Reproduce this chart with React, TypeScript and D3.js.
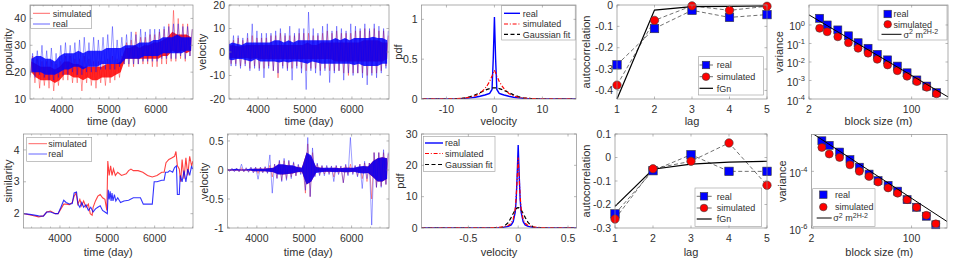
import React from "react";
import * as d3 from "d3";

// ---------- data ----------
// time series are summarised in 100-day bins: dense core and extreme values
const binDays = [3350, 3450, 3550, 3650, 3750, 3850, 3950, 4050, 4150, 4250, 4350, 4450, 4550, 4650, 4750, 4850, 4950, 5050, 5150, 5250, 5350, 5450, 5550, 5650, 5750, 5850, 5950, 6050, 6150, 6250, 6350, 6450, 6550, 6650, 6750];

const popRealCoreLo = [20, 20, 20, 19, 19, 19, 20, 21, 21, 22, 22, 21, 22, 22, 22, 23, 23, 23, 23, 23, 25, 25, 25, 25, 26, 26, 26, 26, 27, 27, 27, 27, 27, 28, 28];
const popRealCoreHi = [25, 26, 26, 25, 25, 24, 26, 27, 27, 27, 28, 27, 28, 28, 28, 28, 29, 29, 29, 29, 30, 30, 30, 31, 31, 31, 32, 32, 33, 33, 33, 34, 33, 33, 33];
const popRealExtLo = [19, 18, 19, 18, 17, 17, 18, 19, 19, 20, 19, 19, 20, 20, 20, 21, 21, 21, 21, 22, 23, 23, 23, 23, 24, 24, 24, 24, 25, 25, 25, 25, 26, 25, 26];
const popRealExtHi = [27, 28, 30, 28, 29, 27, 30, 31, 30, 31, 32, 33, 31, 33, 32, 33, 34, 37, 32, 33, 34, 35, 34, 36, 35, 36, 36, 36, 37, 37, 38, 38, 37, 37, 36];
const popSimCoreLo = [20, 18, 17, 17, 17, 16, 17, 19, 19, 18, 18, 17, 18, 17, 17, 18, 18, 18, 19, 20, 25, 25, 25, 25, 25, 25, 25, 25, 26, 26, 28, 27, 28, 27, 28];
const popSimCoreHi = [24, 23, 22, 22, 22, 21, 22, 24, 24, 23, 23, 22, 22, 22, 22, 22, 23, 23, 23, 24, 29, 29, 30, 29, 30, 30, 31, 31, 32, 33, 35, 34, 34, 34, 33];
const popSimExtLo = [18, 16, 14, 15, 14, 13, 15, 17, 17, 16, 16, 13, 16, 15, 14, 16, 15, 16, 17, 18, 23, 22, 22, 23, 23, 23, 22, 22, 23, 23, 24, 24, 25, 24, 26];
const popSimExtHi = [26, 25, 24, 24, 24, 23, 24, 26, 26, 25, 25, 26, 25, 24, 24, 24, 25, 26, 25, 26, 31, 32, 35, 33, 33, 34, 34, 35, 36, 38, 43, 40, 38, 38, 36];

const velRealCoreLo = [-3, -3.5, -3, -3, -3.5, -4, -3, -4, -4, -4, -4, -4.5, -4, -4.5, -4, -4, -4.5, -5, -4, -4.5, -5, -5, -5, -5, -5, -5, -5, -5.5, -5, -6, -6, -6, -6, -5, -5];
const velRealCoreHi = [3, 4, 3.5, 3, 4, 4, 4, 4, 4, 4, 5, 5, 4, 5, 4, 5, 5, 5, 5, 5, 5, 5, 5, 6, 5, 6, 5, 6, 6, 6, 6, 6.5, 6, 6, 5];
const velRealExtLo = [-5, -6, -6, -7, -6, -8, -7, -8, -11, -7, -8, -9, -7, -8, -12, -7, -9, -16, -8, -9, -10, -8, -13, -9, -8, -12, -9, -10, -9, -11, -14, -10, -11, -9, -7];
const velRealExtHi = [5, 7, 7, 6, 8, 12, 9, 8, 8, 8, 9, 10, 8, 11, 8, 10, 10, 17, 10, 8, 11, 12, 9, 11, 10, 9, 12, 11, 10, 12, 10, 12, 11, 10, 9];
const velSimCoreLo = [-2.5, -2.5, -2.5, -2.5, -2.5, -3, -2.5, -3, -3, -3, -3, -3, -3, -3, -3, -3, -3, -3, -3, -3, -3, -3, -3, -4, -4, -4, -4, -4, -4, -4, -4, -4, -4, -4, -3];
const velSimCoreHi = [2.5, 3, 2.5, 2.5, 3, 3, 3, 3, 3, 3, 3, 3, 3, 3, 3, 3, 3, 4, 3, 3, 4, 4, 4, 4, 4, 4, 4, 4, 4, 5, 5, 5, 5, 4, 4];
const velSimExtLo = [-4, -5, -5, -6, -5, -7, -6, -7, -7, -6, -8, -11, -6, -7, -7, -6, -7, -8, -7, -7, -8, -7, -8, -8, -8, -9, -10, -9, -9, -9, -10, -9, -9, -8, -6];
const velSimExtHi = [4, 5, 6, 5, 6, 7, 6, 6, 6, 7, 7, 8, 7, 7, 7, 8, 8, 8, 7, 7, 8, 9, 8, 9, 8, 8, 8, 9, 9, 10, 9, 10, 9, 9, 7];

const vel2RealCoreLo = [-0.01, -0.01, -0.01, -0.01, -0.01, -0.01, -0.02, -0.02, -0.02, -0.03, -0.04, -0.08, -0.08, -0.07, -0.06, -0.04, -0.03, -0.25, -0.2, -0.05, -0.04, -0.03, -0.03, -0.04, -0.03, -0.04, -0.04, -0.03, -0.05, -0.06, -0.05, -0.12, -0.2, -0.2, -0.15];
const vel2RealCoreHi = [0.01, 0.01, 0.02, 0.01, 0.01, 0.02, 0.02, 0.02, 0.02, 0.03, 0.04, 0.1, 0.1, 0.08, 0.08, 0.05, 0.04, 0.3, 0.25, 0.05, 0.04, 0.04, 0.04, 0.04, 0.03, 0.04, 0.04, 0.04, 0.06, 0.07, 0.06, 0.15, 0.2, 0.22, 0.2];
const vel2RealExtLo = [-0.02, -0.02, -0.03, -0.03, -0.03, -0.04, -0.05, -0.16, -0.05, -0.06, -0.4, -0.15, -0.2, -0.18, -0.15, -0.1, -0.08, -0.35, -0.46, -0.12, -0.1, -0.1, -0.08, -0.2, -0.08, -0.22, -0.1, -0.08, -0.12, -0.32, -0.15, -0.95, -0.3, -0.3, -0.25];
const vel2RealExtHi = [0.02, 0.03, 0.03, 0.1, 0.04, 0.05, 0.05, 0.05, 0.06, 0.26, 0.1, 0.17, 0.2, 0.17, 0.14, 0.1, 0.07, 0.56, 0.38, 0.12, 0.08, 0.08, 0.07, 0.08, 0.07, 0.1, 0.56, 0.08, 0.1, 0.15, 0.12, 0.3, 0.3, 0.35, 0.3];
const vel2SimCoreLo = [-0.01, -0.01, -0.01, -0.01, -0.01, -0.01, -0.02, -0.02, -0.02, -0.02, -0.04, -0.07, -0.08, -0.07, -0.06, -0.04, -0.03, -0.25, -0.2, -0.04, -0.03, -0.03, -0.03, -0.03, -0.03, -0.04, -0.03, -0.03, -0.04, -0.05, -0.05, -0.12, -0.2, -0.2, -0.15];
const vel2SimCoreHi = [0.01, 0.01, 0.01, 0.01, 0.01, 0.01, 0.02, 0.02, 0.02, 0.03, 0.04, 0.09, 0.09, 0.08, 0.07, 0.05, 0.04, 0.3, 0.22, 0.05, 0.04, 0.03, 0.03, 0.04, 0.03, 0.04, 0.04, 0.03, 0.05, 0.06, 0.06, 0.15, 0.2, 0.22, 0.2];
const vel2SimExtLo = [-0.02, -0.02, -0.02, -0.03, -0.03, -0.03, -0.04, -0.06, -0.04, -0.05, -0.12, -0.14, -0.18, -0.15, -0.12, -0.1, -0.06, -0.4, -0.46, -0.1, -0.08, -0.07, -0.06, -0.12, -0.06, -0.22, -0.08, -0.06, -0.1, -0.15, -0.2, -0.5, -0.3, -0.28, -0.25];
const vel2SimExtHi = [0.02, 0.02, 0.03, 0.04, 0.03, 0.04, 0.04, 0.04, 0.05, 0.08, 0.1, 0.15, 0.16, 0.15, 0.12, 0.08, 0.06, 0.45, 0.3, 0.1, 0.07, 0.06, 0.06, 0.07, 0.06, 0.08, 0.1, 0.07, 0.1, 0.12, 0.12, 0.3, 0.3, 0.3, 0.28];

const simRealDays = [3240, 3400, 3550, 3650, 3720, 3800, 3900, 3960, 4020, 4080, 4130, 4200, 4260, 4300, 4350, 4380, 4420, 4460, 4500, 4550, 4600, 4650, 4700, 4750, 4800, 4850, 4900, 4950, 5000, 5020, 5040, 5060, 5080, 5100, 5120, 5150, 5180, 5220, 5280, 5350, 5450, 5550, 5650, 5700, 5760, 5850, 5950, 5990, 6050, 6150, 6200, 6230, 6280, 6320, 6380, 6420, 6460, 6480, 6520, 6540, 6580, 6620, 6660, 6700, 6740, 6780, 6800];
const simRealVals = [2.0, 1.97, 1.93, 1.92, 2.05, 2.05, 2.0, 2.0, 2.2, 2.42, 2.35, 2.3, 2.32, 2.65, 2.68, 2.3, 2.2, 2.35, 2.2, 2.28, 2.1, 2.2, 2.05, 2.15, 2.2, 2.25, 2.1, 2.05, 2.0, 2.75, 2.45, 2.7, 2.4, 2.65, 2.4, 2.6, 2.4, 2.5, 2.35, 2.4, 2.42, 2.5, 2.5, 2.5, 2.3, 2.3, 2.3, 3.0, 3.0, 3.05, 3.05, 3.3, 3.3, 3.35, 3.3, 3.45, 3.5, 2.6, 2.6, 3.2, 3.0, 3.35, 3.0, 3.4, 3.2, 3.5, 3.4];
const simSimDays = [3240, 3400, 3550, 3650, 3720, 3800, 3900, 3960, 4020, 4080, 4130, 4200, 4260, 4300, 4340, 4380, 4420, 4460, 4500, 4550, 4600, 4640, 4680, 4700, 4750, 4800, 4850, 4900, 4950, 4990, 5010, 5040, 5070, 5100, 5130, 5170, 5220, 5300, 5400, 5450, 5500, 5550, 5650, 5750, 5850, 5950, 6050, 6150, 6200, 6240, 6300, 6360, 6420, 6450, 6480, 6520, 6550, 6580, 6620, 6660, 6700, 6740, 6780, 6810];
const simSimVals = [2.0, 1.95, 1.9, 1.93, 2.05, 2.08, 2.0, 2.0, 2.15, 2.3, 2.3, 2.28, 2.35, 2.55, 2.65, 2.3, 2.45, 2.25, 2.4, 2.2, 2.3, 2.0, 1.95, 2.2, 2.4, 2.55, 2.6, 2.5, 2.45, 2.1, 3.65, 3.2, 3.5, 3.2, 3.4, 3.2, 3.3, 3.2, 3.25, 3.35, 3.4, 3.35, 3.35, 3.3, 3.2, 3.15, 3.2, 3.3, 3.3, 3.6, 3.7, 3.75, 3.8, 3.95, 3.5, 3.4, 3.0, 3.7, 3.1, 3.75, 3.2, 3.8, 3.5, 3.65];

const pdfVelTop = [-15, -10, -8, -6, -5, -4, -3, -2, -1.5, -1, -0.5, -0.25, 0, 0.25, 0.5, 1, 1.5, 2, 3, 4, 5, 6, 8, 10, 17];
const pdfRealTop = [0, 0.001, 0.003, 0.008, 0.014, 0.022, 0.035, 0.05, 0.06, 0.07, 0.12, 0.5, 1.03, 0.5, 0.12, 0.07, 0.06, 0.05, 0.035, 0.022, 0.014, 0.008, 0.003, 0.001, 0];
const pdfSimTop = [0, 0.002, 0.005, 0.013, 0.022, 0.04, 0.07, 0.13, 0.17, 0.22, 0.29, 0.33, 0.36, 0.33, 0.29, 0.22, 0.17, 0.13, 0.07, 0.04, 0.022, 0.013, 0.005, 0.002, 0];
const pdfGaussTop = [0, 0.0003, 0.003, 0.015, 0.03, 0.052, 0.08, 0.109, 0.121, 0.131, 0.138, 0.139, 0.14, 0.139, 0.138, 0.131, 0.121, 0.109, 0.08, 0.052, 0.03, 0.015, 0.003, 0.0003, 0];

const pdfVelBot = [-0.97, -0.5, -0.3, -0.2, -0.15, -0.1, -0.07, -0.05, -0.03, -0.02, -0.01, 0, 0.01, 0.02, 0.03, 0.05, 0.07, 0.1, 0.15, 0.2, 0.3, 0.585];
const pdfRealBot = [0, 0.01, 0.05, 0.1, 0.2, 0.5, 1.0, 2.0, 5, 9, 17, 26.5, 17, 9, 5, 2.0, 1.0, 0.5, 0.2, 0.1, 0.05, 0];
const pdfSimBot = [0, 0.02, 0.08, 0.2, 0.35, 0.8, 1.5, 2.8, 6, 10, 16, 22.5, 16, 10, 6, 2.8, 1.5, 0.8, 0.35, 0.2, 0.08, 0];
const pdfGaussBot = [0, 0, 0, 0.02, 0.3, 1.7, 3.4, 4.65, 5.76, 6.16, 6.41, 6.5, 6.41, 6.16, 5.76, 4.65, 3.4, 1.7, 0.3, 0.02, 0, 0];

const lags = [1, 2, 3, 4, 5];
const acfRealTop = [-0.28, -0.11, -0.025, -0.058, -0.045];
const acfSimTop = [-0.375, -0.072, -0.004, -0.025, -0.006];
const acfFgnTop = [-0.44, -0.024, -0.008, -0.006, -0.004];
const acfRealBot = [-0.24, -0.056, 0.012, -0.059, -0.059];
const acfSimBot = [-0.262, -0.048, -0.016, 0.062, -0.118];
const acfFgnBot = [-0.208, -0.05, -0.028, -0.02, -0.016];

const blockSize = [3, 4, 6, 9, 13, 19, 27, 40, 58, 84, 122, 178, 258];
const varRealTop = [2.3, 1.0, 0.54, 0.26, 0.11, 0.055, 0.026, 0.013, 0.006, 0.0026, 0.00107, 0.0005, 0.00022];
const varSimTop = [0.66, 0.43, 0.23, 0.11, 0.055, 0.03, 0.014, 0.0069, 0.0034, 0.0017, 0.00087, 0.00043, 0.00019];
const varRealBot = [1.2e-3, 8.3e-4, 4.8e-4, 2.6e-4, 1.4e-4, 8e-5, 4.7e-5, 3.2e-5, 2e-5, 1e-5, 5.4e-6, 2.6e-6, 1.3e-6];
const varSimBot = [7e-4, 4.1e-4, 3.1e-4, 1.7e-4, 1e-4, 6.6e-5, 4.2e-5, 2.6e-5, 1.7e-5, 1e-5, 5.4e-6, 2.8e-6, 1.4e-6];
const fitM = [2, 400];
const fitTop = [3.5, 1.3e-4];
const fitBot = [2.3e-3, 1.7e-6];

// ---------- drawing ----------
const FONT = "Liberation Sans, Arial, Helvetica, sans-serif";
const INK = "#303030";
const EDGE = "#8a8a8a";
const RED = "#ff0000";
const BLUE = "#0000ff";
const TICK_Y = [112.5, 241.5];
const LABEL_Y = [125, 256];
const FS_TICK = 10.5;
const FS_LABEL = 11;

type Box = { l: number; r: number; t: number; b: number };
type Sc = any;

const pts = (xs: number[], ys: number[]) => xs.map((v, i) => [v, ys[i]] as [number, number]);

function pathOf(x: Sc, y: Sc, data: [number, number][]) {
  return d3.line<[number, number]>().x(p => x(p[0])).y(p => y(p[1]))(data) || "";
}

function logLabel(v: number) {
  const e = Math.round(Math.log10(v));
  return (
    <>
      <tspan>10</tspan>
      <tspan dy={-4.5} fontSize={7.5}>{e}</tspan>
    </>
  );
}

function Frame(props: {
  id: string; box: Box; x: Sc; y: Sc; row: number;
  xTicks: number[]; yTicks: number[]; yLog?: boolean;
  xLabel: string; yLabel: string; yLabelX: number; minorX?: number[];
  children?: React.ReactNode;
}) {
  const { id, box, x, y, row, xTicks, yTicks, yLog, xLabel, yLabel, yLabelX, minorX } = props;
  const tl = 2.5;
  return (
    <g>
      <defs>
        <clipPath id={id}>
          <rect x={box.l} y={box.t} width={box.r - box.l} height={box.b - box.t} />
        </clipPath>
      </defs>
      <rect x={box.l} y={box.t} width={box.r - box.l} height={box.b - box.t} fill="#fff" />
      {props.children}
      <rect x={box.l} y={box.t} width={box.r - box.l} height={box.b - box.t} fill="none" stroke={EDGE} strokeWidth={0.7} />
      {(minorX || []).map(v => (
        <g key={"m" + v} stroke={EDGE} strokeWidth={0.5}>
          <line x1={x(v)} x2={x(v)} y1={box.b} y2={box.b - 1.5} />
          <line x1={x(v)} x2={x(v)} y1={box.t} y2={box.t + 1.5} />
        </g>
      ))}
      {xTicks.map(v => (
        <g key={"x" + v}>
          <line x1={x(v)} x2={x(v)} y1={box.b} y2={box.b - tl} stroke={EDGE} strokeWidth={0.6} />
          <line x1={x(v)} x2={x(v)} y1={box.t} y2={box.t + tl} stroke={EDGE} strokeWidth={0.6} />
          <text x={x(v)} y={TICK_Y[row]} textAnchor="middle" fontSize={FS_TICK} fill={INK}>{String(v)}</text>
        </g>
      ))}
      {yTicks.map(v => (
        <g key={"y" + v}>
          <line x1={box.l} x2={box.l + tl} y1={y(v)} y2={y(v)} stroke={EDGE} strokeWidth={0.6} />
          <line x1={box.r} x2={box.r - tl} y1={y(v)} y2={y(v)} stroke={EDGE} strokeWidth={0.6} />
          <text x={box.l - 4} y={y(v) + (yLog ? 5.5 : 3.7)} textAnchor="end" fontSize={FS_TICK} fill={INK}>
            {yLog ? logLabel(v) : String(v)}
          </text>
        </g>
      ))}
      <text x={(box.l + box.r) / 2} y={LABEL_Y[row]} textAnchor="middle" fontSize={FS_LABEL} fill={INK}>{xLabel}</text>
      <text transform={`translate(${yLabelX},${(box.t + box.b) / 2}) rotate(-90)`} dy="0.35em"
        textAnchor="middle" fontSize={FS_LABEL} fill={INK}>{yLabel}</text>
    </g>
  );
}

function NoisyTrace(p: { x: Sc; y: Sc; color: string; coreLo: number[]; coreHi: number[]; extLo: number[]; extHi: number[] }) {
  const { x, y, color } = p;
  const area = d3.area<number>()
    .x(d => x(d))
    .y0((_, i) => y(p.coreLo[i]))
    .y1((_, i) => y(p.coreHi[i]));
  const ext: [number, number][] = [];
  binDays.forEach((d, i) => {
    ext.push([d - 25, p.extLo[i]], [d + 25, p.extHi[i]]);
  });
  return (
    <g>
      <path d={pathOf(x, y, ext)} fill="none" stroke={color} strokeOpacity={0.55} strokeWidth={0.7} />
      <path d={area(binDays) || ""} fill={color} fillOpacity={0.85} />
    </g>
  );
}

function LegendBox({ x, y, w, h, children }: { x: number; y: number; w: number; h: number; children?: React.ReactNode }) {
  return (
    <g>
      <rect x={x} y={y} width={w} height={h} fill="#fff" stroke="#9a9a9a" strokeWidth={0.6} />
      {children}
    </g>
  );
}

const LText = ({ x, y, children }: { x: number; y: number; children: React.ReactNode }) => (
  <text x={x} y={y + 3.2} fontSize={9} fill={INK}>{children}</text>
);

const Sq = ({ cx, cy, s = 8.5 }: { cx: number; cy: number; s?: number }) => (
  <rect x={cx - s / 2} y={cy - s / 2} width={s} height={s} fill={BLUE} stroke="#3a3a3a" strokeWidth={0.6} />
);
const Dot = ({ cx, cy, r = 4.2 }: { cx: number; cy: number; r?: number }) => (
  <circle cx={cx} cy={cy} r={r} fill={RED} stroke="#3a3a3a" strokeWidth={0.6} />
);

const sigmaLabel = (
  <>
    <tspan>σ</tspan>
    <tspan dy={-3.5} fontSize={7}>2</tspan>
    <tspan dy={3.5}> m</tspan>
    <tspan dy={-3.5} fontSize={7}>2H-2</tspan>
  </>
);

const DASH = "4,2.5";
const DASHDOT = "4,1.8,1,1.8";

export default function App() {
  // ---- panel boxes ----
  const b1 = { l: 30, r: 193, t: 5, b: 99 };
  const b2 = { l: 229, r: 389, t: 5, b: 99 };
  const b3 = { l: 421.5, r: 576, t: 5, b: 99 };
  const b4 = { l: 617, r: 767, t: 5, b: 99 };
  const b5 = { l: 809, r: 948, t: 5, b: 99 };
  const b6 = { l: 23.5, r: 193, t: 134, b: 228 };
  const b7 = { l: 227.5, r: 389, t: 134, b: 228 };
  const b8 = { l: 421.5, r: 576.5, t: 134, b: 228 };
  const b9 = { l: 615, r: 767, t: 134, b: 228 };
  const b10 = { l: 811.5, r: 947, t: 134.5, b: 228 };

  const x1 = d3.scaleLinear().domain([3320, 6790]).range([b1.l, b1.r]);
  const y1 = d3.scaleLinear().domain([10, 45]).range([b1.b, b1.t]);
  const x2 = d3.scaleLinear().domain([3380, 6790]).range([b2.l, b2.r]);
  const y2 = d3.scaleLinear().domain([-20, 20]).range([b2.b, b2.t]);
  const x3 = d3.scaleLinear().domain([-15.2, 17]).range([b3.l, b3.r]);
  const y3 = d3.scaleLinear().domain([0, 1.18]).range([b3.b, b3.t]);
  const x4 = d3.scaleLinear().domain([1, 5]).range([b4.l, b4.r]);
  const y4 = d3.scaleLinear().domain([-0.44, 0]).range([b4.b, b4.t]);
  const x5 = d3.scaleLog().domain([2, 400]).range([b5.l, b5.r]);
  const y5 = d3.scaleLog().domain([1e-4, 12]).range([b5.b, b5.t]);
  const x6 = d3.scaleLinear().domain([3230, 6810]).range([b6.l, b6.r]);
  const y6 = d3.scaleLinear().domain([1.55, 4.5]).range([b6.b, b6.t]);
  const x7 = d3.scaleLinear().domain([3380, 6790]).range([b7.l, b7.r]);
  const y7 = d3.scaleLinear().domain([-1, 0.62]).range([b7.b, b7.t]);
  const x8 = d3.scaleLinear().domain([-0.97, 0.585]).range([b8.l, b8.r]);
  const y8 = d3.scaleLinear().domain([0, 30]).range([b8.b, b8.t]);
  const x9 = d3.scaleLinear().domain([1, 5]).range([b9.l, b9.r]);
  const y9 = d3.scaleLinear().domain([-0.3, 0.1]).range([b9.b, b9.t]);
  const x10 = d3.scaleLog().domain([2, 400]).range([b10.l, b10.r]);
  const y10 = d3.scaleLog().domain([1e-6, 2e-3]).range([b10.b, b10.t]);

  const timeTicks = [4000, 5000, 6000];
  const minor = (x: Sc) => x.ticks(18).filter((v: number) => v % 1000 !== 0);

  const acfPanel = (x: Sc, y: Sc, real: number[], sim: number[], fgn: number[]) => (
    <g>
      <path d={pathOf(x, y, pts(lags, real))} fill="none" stroke="#333" strokeWidth={0.7} strokeDasharray={DASH} />
      <path d={pathOf(x, y, pts(lags, sim))} fill="none" stroke="#333" strokeWidth={0.7} strokeDasharray={DASH} />
      <path d={pathOf(x, y, pts(lags, fgn))} fill="none" stroke="#000" strokeWidth={1.2} />
      {lags.map((l, i) => <Sq key={"s" + l} cx={x(l)} cy={y(real[i])} />)}
      {lags.map((l, i) => <Dot key={"c" + l} cx={x(l)} cy={y(sim[i])} />)}
    </g>
  );

  const varPanel = (id: string, x: Sc, y: Sc, real: number[], sim: number[], fit: number[]) => (
    <g>
      {blockSize.map((m, i) => <Sq key={"s" + m} cx={x(m)} cy={y(real[i])} s={8} />)}
      {blockSize.map((m, i) => <Dot key={"c" + m} cx={x(m)} cy={y(sim[i])} r={4} />)}
      <path clipPath={`url(#${id})`} d={pathOf(x, y, pts(fitM, fit))} fill="none" stroke="#000" strokeWidth={1} />
    </g>
  );

  const pdfPanel = (id: string, x: Sc, y: Sc, v: number[], real: number[], sim: number[], gauss: number[]) => (
    <g clipPath={`url(#${id})`}>
      <path d={pathOf(x, y, pts(v, real))} fill="none" stroke={BLUE} strokeWidth={1.4} />
      <path d={pathOf(x, y, pts(v, gauss))} fill="none" stroke="#000" strokeWidth={1.2} strokeDasharray={DASH} />
      <path d={pathOf(x, y, pts(v, sim))} fill="none" stroke={RED} strokeWidth={1.2} strokeDasharray={DASHDOT} />
    </g>
  );

  return (
    <svg width={954} height={259} style={{ position: "absolute", left: 0, top: 0 }}>
      <g style={{ fontFamily: FONT }}>
      <rect width={954} height={259} fill="#fff" />

      {/* 1: popularity */}
      <Frame id="c1" box={b1} x={x1} y={y1} row={0} xTicks={timeTicks} yTicks={[10, 20, 30, 40]}
        xLabel="time (day)" yLabel="popularity" yLabelX={8} minorX={minor(x1)}>
        <g clipPath="url(#c1)">
          <NoisyTrace x={x1} y={y1} color={RED} coreLo={popSimCoreLo} coreHi={popSimCoreHi} extLo={popSimExtLo} extHi={popSimExtHi} />
          <NoisyTrace x={x1} y={y1} color={BLUE} coreLo={popRealCoreLo} coreHi={popRealCoreHi} extLo={popRealExtLo} extHi={popRealExtHi} />
        </g>
        <LegendBox x={30.7} y={5.3} w={61} h={23}>
          <line x1={33} x2={50} y1={13.3} y2={13.3} stroke={RED} strokeOpacity={0.6} />
          <LText x={52.7} y={13.3}>simulated</LText>
          <line x1={33} x2={50} y1={24} y2={24} stroke={BLUE} strokeOpacity={0.6} />
          <LText x={52.7} y={24}>real</LText>
        </LegendBox>
      </Frame>

      {/* 2: velocity */}
      <Frame id="c2" box={b2} x={x2} y={y2} row={0} xTicks={timeTicks} yTicks={[-20, -10, 0, 10, 20]}
        xLabel="time (day)" yLabel="velocity" yLabelX={202} minorX={minor(x2)}>
        <g clipPath="url(#c2)">
          <NoisyTrace x={x2} y={y2} color={RED} coreLo={velSimCoreLo} coreHi={velSimCoreHi} extLo={velSimExtLo} extHi={velSimExtHi} />
          <NoisyTrace x={x2} y={y2} color={BLUE} coreLo={velRealCoreLo} coreHi={velRealCoreHi} extLo={velRealExtLo} extHi={velRealExtHi} />
        </g>
      </Frame>

      {/* 3: pdf */}
      <Frame id="c3" box={b3} x={x3} y={y3} row={0} xTicks={[-10, 0, 10]} yTicks={[0, 0.5, 1]}
        xLabel="velocity" yLabel="pdf" yLabelX={398}>
        {pdfPanel("c3", x3, y3, pdfVelTop, pdfRealTop, pdfSimTop, pdfGaussTop)}
        <LegendBox x={501.7} y={5.5} w={73.5} h={34.5}>
          <line x1={504} x2={520} y1={13.3} y2={13.3} stroke={BLUE} strokeWidth={1.4} />
          <LText x={522.7} y={13.3}>real</LText>
          <line x1={504} x2={520} y1={24} y2={24} stroke={RED} strokeWidth={1.2} strokeDasharray={DASHDOT} />
          <LText x={522.7} y={24}>simulated</LText>
          <line x1={504} x2={520} y1={34.3} y2={34.3} stroke="#000" strokeWidth={1.2} strokeDasharray={DASH} />
          <LText x={522.7} y={34.3}>Gaussian fit</LText>
        </LegendBox>
      </Frame>

      {/* 4: autocorrelation */}
      <Frame id="c4" box={b4} x={x4} y={y4} row={0} xTicks={lags} yTicks={[-0.4, -0.3, -0.2, -0.1, 0]}
        xLabel="lag" yLabel="autocorrelation" yLabelX={586}>
        {acfPanel(x4, y4, acfRealTop, acfSimTop, acfFgnTop)}
        <LegendBox x={698.3} y={56.7} w={65} h={38.3}>
          <line x1={699.5} x2={713} y1={65} y2={65} stroke="#333" strokeWidth={0.7} />
          <Sq cx={706} cy={65} s={7.5} />
          <LText x={716.7} y={65}>real</LText>
          <line x1={699.5} x2={713} y1={76.7} y2={76.7} stroke="#333" strokeWidth={0.7} />
          <Dot cx={706} cy={76.7} r={3.8} />
          <LText x={716.7} y={76.7}>simulated</LText>
          <line x1={699.5} x2={713} y1={88.3} y2={88.3} stroke="#000" strokeWidth={1.2} />
          <LText x={716.7} y={88.3}>fGn</LText>
        </LegendBox>
      </Frame>

      {/* 5: variance */}
      <Frame id="c5" box={b5} x={x5} y={y5} row={0} xTicks={[2, 100]} yTicks={[1e-4, 1e-3, 1e-2, 1e-1, 1]} yLog
        xLabel="block size (m)" yLabel="variance" yLabelX={779}>
        {varPanel("c5", x5, y5, varRealTop, varSimTop, fitTop)}
        <LegendBox x={878} y={5.5} w={69} h={34.5}>
          <Sq cx={887.7} cy={14} s={7.5} />
          <LText x={893.5} y={14}>real</LText>
          <Dot cx={887.7} cy={24.3} r={3.8} />
          <LText x={893.5} y={24.3}>simulated</LText>
          <line x1={881.5} x2={901.5} y1={34.3} y2={34.3} stroke="#000" strokeWidth={1} />
          <LText x={903.5} y={34.3}>{sigmaLabel}</LText>
        </LegendBox>
      </Frame>

      {/* 6: similarity */}
      <Frame id="c6" box={b6} x={x6} y={y6} row={1} xTicks={timeTicks} yTicks={[2, 3, 4]}
        xLabel="time (day)" yLabel="similarity" yLabelX={8} minorX={minor(x6)}>
        <g clipPath="url(#c6)">
          <path d={pathOf(x6, y6, pts(simSimDays, simSimVals))} fill="none" stroke={RED} strokeOpacity={0.75} strokeWidth={1.1} />
          <path d={pathOf(x6, y6, pts(simRealDays, simRealVals))} fill="none" stroke={BLUE} strokeOpacity={0.8} strokeWidth={1.1} />
        </g>
        <LegendBox x={26.7} y={137.3} w={65} h={24}>
          <line x1={28.5} x2={47} y1={143.7} y2={143.7} stroke={RED} strokeOpacity={0.6} />
          <LText x={48.3} y={143.7}>simulated</LText>
          <line x1={28.5} x2={47} y1={154} y2={154} stroke={BLUE} strokeOpacity={0.6} />
          <LText x={48.3} y={154}>real</LText>
        </LegendBox>
      </Frame>

      {/* 7: velocity of similarity */}
      <Frame id="c7" box={b7} x={x7} y={y7} row={1} xTicks={timeTicks} yTicks={[-1, -0.5, 0, 0.5]}
        xLabel="time (day)" yLabel="velocity" yLabelX={204} minorX={minor(x7)}>
        <g clipPath="url(#c7)">
          <NoisyTrace x={x7} y={y7} color={RED} coreLo={vel2SimCoreLo} coreHi={vel2SimCoreHi} extLo={vel2SimExtLo} extHi={vel2SimExtHi} />
          <NoisyTrace x={x7} y={y7} color={BLUE} coreLo={vel2RealCoreLo} coreHi={vel2RealCoreHi} extLo={vel2RealExtLo} extHi={vel2RealExtHi} />
        </g>
      </Frame>

      {/* 8: pdf */}
      <Frame id="c8" box={b8} x={x8} y={y8} row={1} xTicks={[-0.5, 0, 0.5]} yTicks={[0, 10, 20, 30]}
        xLabel="velocity" yLabel="pdf" yLabelX={400}>
        {pdfPanel("c8", x8, y8, pdfVelBot, pdfRealBot, pdfSimBot, pdfGaussBot)}
        <LegendBox x={423.3} y={136.3} w={71.7} h={35}>
          <line x1={425} x2={443} y1={143} y2={143} stroke={BLUE} strokeWidth={1.4} />
          <LText x={445} y={143}>real</LText>
          <line x1={425} x2={443} y1={153.5} y2={153.5} stroke={RED} strokeWidth={1.2} strokeDasharray={DASHDOT} />
          <LText x={445} y={153.5}>simulated</LText>
          <line x1={425} x2={443} y1={164.5} y2={164.5} stroke="#000" strokeWidth={1.2} strokeDasharray={DASH} />
          <LText x={445} y={164.5}>Gaussian fit</LText>
        </LegendBox>
      </Frame>

      {/* 9: autocorrelation */}
      <Frame id="c9" box={b9} x={x9} y={y9} row={1} xTicks={lags} yTicks={[-0.3, -0.2, -0.1, 0, 0.1]}
        xLabel="lag" yLabel="autocorrelation" yLabelX={586}>
        {acfPanel(x9, y9, acfRealBot, acfSimBot, acfFgnBot)}
        <LegendBox x={695} y={188} w={66.7} h={38.3}>
          <line x1={696.7} x2={711.7} y1={196.3} y2={196.3} stroke="#333" strokeWidth={0.7} />
          <Sq cx={704} cy={196.3} s={7.5} />
          <LText x={716.7} y={196.3}>real</LText>
          <line x1={696.7} x2={711.7} y1={208} y2={208} stroke="#333" strokeWidth={0.7} />
          <Dot cx={704} cy={208} r={3.8} />
          <LText x={716.7} y={208}>simulated</LText>
          <line x1={696.7} x2={711.7} y1={219} y2={219} stroke="#000" strokeWidth={1.2} />
          <LText x={716.7} y={219}>fGn</LText>
        </LegendBox>
      </Frame>

      {/* 10: variance */}
      <Frame id="c10" box={b10} x={x10} y={y10} row={1} xTicks={[2, 100]} yTicks={[1e-6, 1e-4]} yLog
        xLabel="block size (m)" yLabel="variance" yLabelX={782}>
        {varPanel("c10", x10, y10, varRealBot, varSimBot, fitBot)}
        <LegendBox x={812.7} y={188.7} w={62.3} h={37.6}>
          <Sq cx={823.3} cy={194.7} s={7.5} />
          <LText x={835} y={194.7}>real</LText>
          <Dot cx={823.3} cy={207} r={3.8} />
          <LText x={835} y={207}>simulated</LText>
          <line x1={816.7} x2={831.7} y1={218} y2={218} stroke="#000" strokeWidth={1} />
          <LText x={833.3} y={218}>{sigmaLabel}</LText>
        </LegendBox>
      </Frame>
      </g>
    </svg>
  );
}
